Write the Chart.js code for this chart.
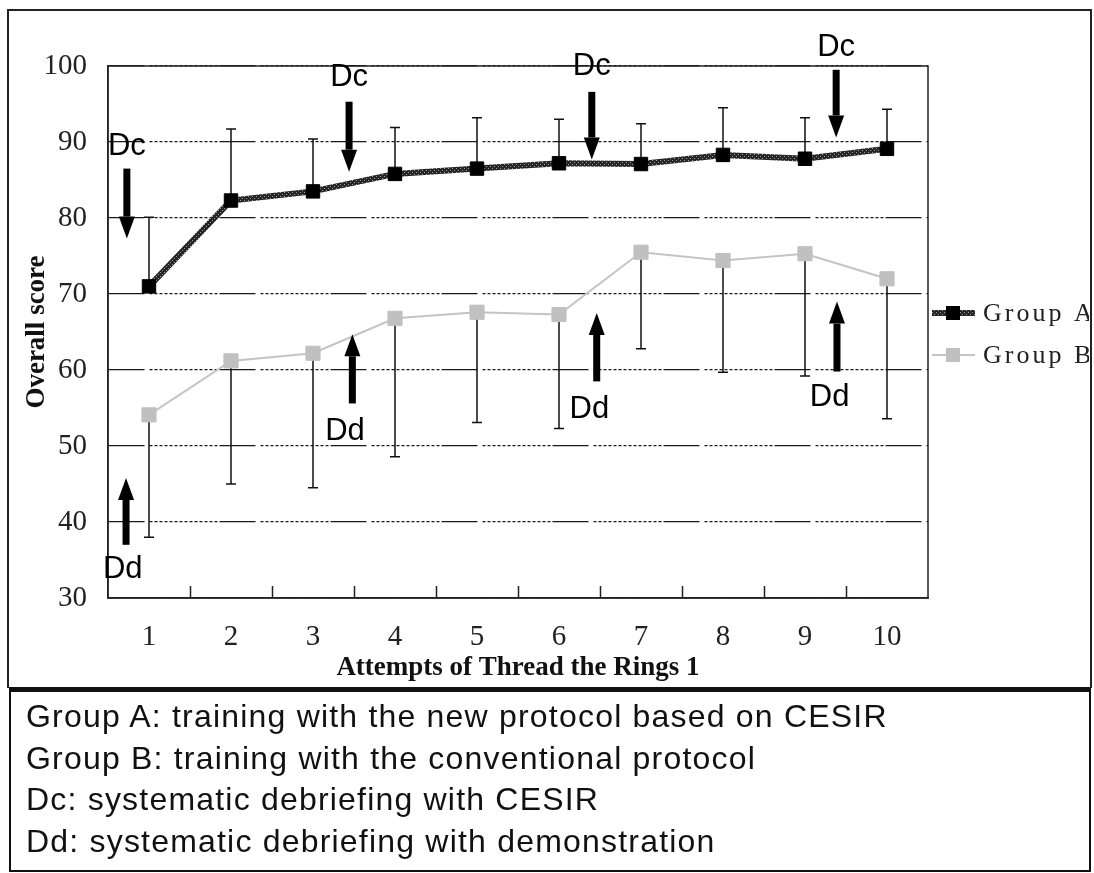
<!DOCTYPE html>
<html lang="en">
<head>
    <meta charset="UTF-8">
    <title>Overall score - Thread the Rings 1</title>
    <script src="https://cdn.jsdelivr.net/npm/chart.js"></script>
    <style>
        body { margin: 0; background: #fff; width: 1094px; height: 873px; overflow: hidden; position: relative; }
        #chartBox { position: absolute; left: 0; top: 0; width: 1094px; height: 688px; }
        #notes {
            position: absolute; left: 9px; top: 687px; width: 1082px; height: 185px;
            box-sizing: border-box; border: 2px solid #111; border-top: 5px solid #111;
            font: 32px "Liberation Sans", Arial, sans-serif; color: #111; letter-spacing: 1.2px;
            line-height: 41.5px; padding: 4px 0 0 15px; white-space: nowrap;
        }
    </style>
</head>
<body>

    <div id="chartBox"><canvas id="scoreChart"></canvas></div>

    <div id="notes">
        Group A: training with the new protocol based on CESIR<br>
        Group B: training with the conventional protocol<br>
        Dc: systematic debriefing with CESIR<br>
        Dd: systematic debriefing with demonstration
    </div>

    <script>
        // attempts 1..10
        const attempts = ['1', '2', '3', '4', '5', '6', '7', '8', '9', '10'];

        // mean scores
        const groupA = [71.0, 82.3, 83.5, 85.8, 86.5, 87.2, 87.1, 88.3, 87.8, 89.1];
        const groupB = [54.1, 61.2, 62.2, 66.8, 67.6, 67.3, 75.5, 74.4, 75.3, 72.0];

        // error bar ends (A only upward, B only downward)
        const groupAUpper = [80.1, 91.7, 90.4, 91.9, 93.2, 93.0, 92.4, 94.5, 93.2, 94.3];
        const groupBLower = [38.0, 45.0, 44.5, 48.6, 53.1, 52.3, 62.8, 59.7, 59.2, 53.6];

        // debriefing markers: position as category index (0 = attempt 1)
        const dcPos = [-0.27, 2.44, 5.40, 8.38];
        const dcLabelY = [89.4, 98.5, 99.9, 102.5];
        const dcArrowFrom = [86.5, 95.3, 96.6, 99.5];
        const dcArrowTo = [77.3, 86.1, 87.7, 90.6];

        const ddPos = [-0.28, 2.48, 5.46, 8.39];
        const ddLabelPos = [-0.32, 2.39, 5.37, 8.30];
        const ddLabelY = [33.7, 51.9, 54.8, 56.4];
        const ddArrowFrom = [37.0, 55.6, 58.5, 59.8];
        const ddArrowTo = [45.8, 64.7, 67.5, 69.0];

        const yTicks = [30, 40, 50, 60, 70, 80, 90, 100];

        // dash-dot gridlines: a solid run followed by short dashes
        const gridDash = [36, 5].concat(Array(28).fill(3).map((v, i) => i % 2 ? 2 : 3));

        // speckled texture for the Group A line
        function makeTexture() {
            const c = document.createElement('canvas');
            c.width = 4; c.height = 4;
            const g = c.getContext('2d');
            g.fillStyle = '#262626';
            g.fillRect(0, 0, 4, 4);
            g.fillStyle = '#9a9a9a';
            g.fillRect(0, 0, 1, 1);
            g.fillRect(2, 2, 1, 1);
            return g.createPattern(c, 'repeat');
        }

        function drawArrow(ctx, x, yFrom, yTo) {
            const dir = yTo > yFrom ? 1 : -1;
            const head = 22;
            ctx.save();
            ctx.fillStyle = '#000';
            ctx.fillRect(x - 3.5, Math.min(yFrom, yTo - dir * head), 7, Math.abs(yTo - dir * head - yFrom));
            ctx.beginPath();
            ctx.moveTo(x - 8, yTo - dir * head);
            ctx.lineTo(x + 8, yTo - dir * head);
            ctx.lineTo(x, yTo);
            ctx.closePath();
            ctx.fill();
            ctx.restore();
        }

        const extras = {
            id: 'extras',
            beforeDatasetsDraw(chart) {
                const { ctx, scales: { x, y } } = chart;
                ctx.save();
                ctx.strokeStyle = '#111';
                ctx.lineWidth = 1.5;
                // error bars
                attempts.forEach((_, i) => {
                    const px = x.getPixelForValue(i);
                    const a0 = y.getPixelForValue(groupA[i]), a1 = y.getPixelForValue(groupAUpper[i]);
                    const b0 = y.getPixelForValue(groupB[i]), b1 = y.getPixelForValue(groupBLower[i]);
                    ctx.beginPath();
                    ctx.moveTo(px, a0); ctx.lineTo(px, a1);
                    ctx.moveTo(px - 5, a1); ctx.lineTo(px + 5, a1);
                    ctx.moveTo(px, b0); ctx.lineTo(px, b1);
                    ctx.moveTo(px - 5, b1); ctx.lineTo(px + 5, b1);
                    ctx.stroke();
                });
                ctx.restore();
            },
            afterDraw(chart) {
                const { ctx, chartArea: ca, scales: { x, y } } = chart;
                ctx.save();
                // plot frame
                ctx.strokeStyle = '#222';
                ctx.lineWidth = 1.5;
                ctx.strokeRect(ca.left, ca.top, ca.right - ca.left, ca.bottom - ca.top);
                // inner tick marks between categories
                ctx.beginPath();
                for (let i = 1; i < attempts.length; i++) {
                    const px = Math.round(x.getPixelForValue(i - 0.5)) + 0.5;
                    ctx.moveTo(px, ca.bottom);
                    ctx.lineTo(px, ca.bottom - 12);
                }
                ctx.stroke();

                // Dc / Dd arrows and labels
                ctx.font = '31px "Liberation Sans", Arial, sans-serif';
                ctx.fillStyle = '#000';
                ctx.textAlign = 'center';
                ctx.textBaseline = 'middle';
                dcPos.forEach((p, i) => {
                    const px = x.getPixelForValue(p);
                    drawArrow(ctx, px, y.getPixelForValue(dcArrowFrom[i]), y.getPixelForValue(dcArrowTo[i]));
                    ctx.fillText('Dc', px, y.getPixelForValue(dcLabelY[i]));
                });
                ddPos.forEach((p, i) => {
                    drawArrow(ctx, x.getPixelForValue(p), y.getPixelForValue(ddArrowFrom[i]), y.getPixelForValue(ddArrowTo[i]));
                    ctx.fillText('Dd', x.getPixelForValue(ddLabelPos[i]), y.getPixelForValue(ddLabelY[i]));
                });

                // legend on the right, clipped by the outer frame
                ctx.beginPath();
                ctx.rect(ca.right, 0, 1089 - ca.right, chart.height);
                ctx.clip();
                chart.data.datasets.forEach((ds, i) => {
                    const ly = 313 + i * 42;
                    ctx.strokeStyle = ds.borderColor;
                    ctx.lineWidth = ds.borderWidth;
                    ctx.beginPath();
                    ctx.moveTo(932, ly); ctx.lineTo(975, ly);
                    ctx.stroke();
                    ctx.fillStyle = ds.pointBackgroundColor;
                    ctx.fillRect(946, ly - 7, 14, 14);
                    ctx.fillStyle = '#222';
                    ctx.font = '26px "Liberation Serif", serif';
                    ctx.letterSpacing = '3px';
                    ctx.textAlign = 'left';
                    ctx.fillText(ds.label, 983, ly + 1);
                });
                ctx.restore();

                // outer frame
                ctx.save();
                ctx.strokeStyle = '#222';
                ctx.lineWidth = 2;
                ctx.strokeRect(8, 10, 1083, 678);
                ctx.restore();
            }
        };

        const texture = makeTexture();
        const ctx = document.getElementById('scoreChart').getContext('2d');
        new Chart(ctx, {
            type: 'line',
            data: {
                labels: attempts,
                datasets: [
                    {
                        label: 'Group A',
                        data: groupA,
                        borderColor: texture,
                        borderWidth: 6,
                        pointStyle: 'rect',
                        pointRadius: 9.5,
                        pointBorderWidth: 1,
                        pointBackgroundColor: '#000',
                        pointBorderColor: '#000',
                        tension: 0
                    },
                    {
                        label: 'Group B',
                        data: groupB,
                        borderColor: '#c4c4c4',
                        borderWidth: 2,
                        pointStyle: 'rect',
                        pointRadius: 10,
                        pointBorderWidth: 1,
                        pointBackgroundColor: '#c0c0c0',
                        pointBorderColor: '#c0c0c0',
                        tension: 0
                    }
                ]
            },
            options: {
                responsive: true,
                maintainAspectRatio: false,
                animation: false,
                devicePixelRatio: 1,
                layout: { padding: { top: 66, right: 166, left: 0, bottom: 0 } },
                plugins: {
                    legend: { display: false },
                    tooltip: { enabled: false }
                },
                scales: {
                    x: {
                        type: 'category',
                        offset: true,
                        grid: { display: false, drawTicks: false },
                        border: { display: true, color: '#222', width: 1.5 },
                        ticks: {
                            color: '#222',
                            font: { family: '"Liberation Serif", serif', size: 29 },
                            padding: 22,
                            maxRotation: 0
                        },
                        title: {
                            display: true,
                            text: 'Attempts of Thread the Rings 1',
                            color: '#111',
                            font: { family: '"Liberation Serif", serif', size: 27, weight: 'bold' },
                            padding: { top: 0, bottom: 4 }
                        },
                        afterFit(scale) { scale.height = 90; }
                    },
                    y: {
                        min: 30,
                        max: 100,
                        afterBuildTicks(scale) { scale.ticks = yTicks.map(v => ({ value: v })); },
                        grid: {
                            drawTicks: false,
                            color: '#1a1a1a',
                            lineWidth: 1.3
                        },
                        border: { display: true, color: '#222', width: 1.5, dash: gridDash },
                        ticks: {
                            color: '#222',
                            font: { family: '"Liberation Serif", serif', size: 29 },
                            padding: 21
                        },
                        title: {
                            display: true,
                            text: 'Overall score',
                            color: '#111',
                            font: { family: '"Liberation Serif", serif', size: 27, weight: 'bold' },
                            padding: { top: 21, bottom: 0 }
                        },
                        afterFit(scale) { scale.width = 108; }
                    }
                }
            },
            plugins: [extras]
        });
    </script>

</body>
</html>
